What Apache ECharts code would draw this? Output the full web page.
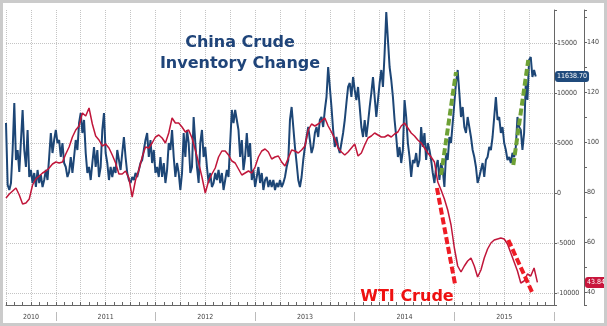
<!DOCTYPE html>
<html><head><meta charset="utf-8">
<script src="https://cdn.jsdelivr.net/npm/echarts@6/dist/echarts.min.js"></script>
<style>
html,body{margin:0;padding:0;background:#fff;}
#c{width:607px;height:326px;position:absolute;left:0;top:0;}
#frame{position:absolute;left:0;top:0;width:607px;height:326px;box-sizing:border-box;border:3px solid #cbcbcb;pointer-events:none;}
</style>
</head><body><div id="c"></div><div id="frame"></div>
<script>
// x unit: months after Jan 2010
const startMonth = 6;
const blueStep = 0.2;
const wtiStep = 0.4;
const yearLabels = ['2010','2011','2012','2013','2014','2015'];
const blueValues = [
7000,800,300,1000,4300,9000,3300,4300,2100,2300,
8300,4300,2600,6300,1600,2300,1000,2000,600,2300,
1000,1800,600,1300,2300,1300,3600,6000,4000,5300,
6300,5000,5300,3600,5000,3000,2600,1600,2100,3600,
2000,3600,5300,4300,7000,8000,6000,7300,4000,2000,
2600,1300,3000,4600,2600,4300,1600,2600,6300,8000,
4000,3000,1300,2600,1600,2600,2000,4300,3300,2300,
4000,5600,3600,2000,1300,1000,1600,1300,2000,1600,
2300,3000,3300,4300,5300,6000,3600,5300,3000,4300,
2000,2600,1600,3600,1600,3000,1000,2300,5000,4300,
6300,3600,1600,3000,2000,300,2000,6000,3600,6300,
5000,2000,2600,7600,5000,2600,1000,5000,6300,3600,
4600,2600,1000,2000,600,1000,2000,1300,2300,1000,
2000,300,1300,2300,1600,5000,8300,7000,8300,7300,
6300,3600,5300,2300,3600,6000,3600,5000,1300,2300,
600,1600,2600,1000,2000,300,1300,1600,600,1300,
600,1300,300,1000,600,1300,600,1000,1600,2600,
3300,7300,8600,6600,4600,3000,1300,600,1600,3300,
4600,5600,6600,5300,4000,4600,6000,6600,5600,7300,
7600,6600,8300,9600,12600,10600,8600,6300,4600,5600,
4600,4000,5000,6000,7300,9000,10600,11000,9600,11600,
10300,9300,10600,8600,6600,5600,7300,5600,7000,8600,
10000,11600,9600,7600,9300,11000,12300,10600,14000,18100,
15300,12600,11300,9600,7300,5600,3600,4600,3000,4300,
9300,7600,5000,3600,1600,3300,3000,4000,2600,3300,
6600,4600,6000,3300,5000,4300,3300,2000,1000,2600,
3300,1300,3000,2300,600,4000,3300,5600,5000,7000,
9000,11000,12300,10000,7600,8600,6600,6000,7600,6600,
5600,4300,3600,2600,1000,1600,2300,3000,1600,3300,
3600,4600,4300,5600,7600,9600,7300,7600,6000,6600,
5000,4300,3300,3600,3000,4000,3600,4600,7600,6600,
6300,4300,6000,11000,9300,13300,13600,11600,12300,11638.7
];
const wtiValues = [
77.6,79.2,80.4,81.6,78.8,75.2,75.6,77.2,82.8,85.2,
86.4,87.6,88.4,89.6,91.2,92.0,91.6,92.0,95.2,98.0,
102.0,104.8,106.4,111.6,110.4,113.6,107.2,102.4,100.8,98.4,
99.2,97.6,94.8,91.6,87.2,87.2,88.4,85.6,78.0,84.8,
88.8,94.0,98.0,97.6,99.6,102.0,102.8,101.6,99.6,103.6,
109.6,107.6,107.6,106.0,104.0,104.8,101.6,96.8,91.6,86.0,
79.6,84.4,87.2,89.6,94.0,96.4,96.4,94.8,92.4,91.6,
89.2,86.8,87.6,88.4,87.6,90.0,94.0,96.4,97.2,96.0,
93.2,94.0,94.4,92.0,90.4,93.6,96.8,96.4,95.6,96.8,
98.4,104.8,107.2,106.4,107.2,108.4,109.6,106.4,104.0,101.2,
97.6,96.0,94.8,96.0,97.6,99.2,94.4,95.6,98.8,101.6,
102.4,103.6,102.8,102.0,102.0,102.8,102.0,103.2,104.0,106.4,
107.6,105.6,103.6,102.4,100.8,99.6,97.6,95.6,94.0,92.0,
84.0,80.8,77.2,72.8,66.8,57.6,50.4,48.0,50.4,52.4,
53.6,50.4,46.0,48.8,53.6,57.2,59.6,60.8,61.2,61.6,
61.2,59.2,55.6,52.0,48.4,43.6,44.4,47.2,46.4,49.6,
43.84
];
// annotation arrows in data units [month, value]
const greenArrows = [[[58.4,1800],[60.2,12100]], [[67.1,2800],[68.9,13300]]];
const redArrows = [[[57.9,81.6],[60.1,42.8]], [[66.5,60.8],[69.35,40.0]]];

const blueData = blueValues.map((v,i)=>[startMonth + i*blueStep, v]);
const wtiData = wtiValues.map((v,i)=>[startMonth + i*wtiStep, v]);
const quarterCats = [];
for (let m = 6; m <= 72; m += 3) quarterCats.push(String(m));
function yearLabel(idx){
  const m = 6 + 3*idx;
  if (m === 9) return yearLabels[0];
  if (m % 12 === 6 && m >= 18) return yearLabels[(m-6)/12];
  return '';
}
const axisFont = 'Liberation Sans Narrow, DejaVu Sans Condensed, sans-serif';
const chart = echarts.init(document.getElementById('c'));
chart.setOption({
  animation: false,
  backgroundColor: '#fff',
  textStyle: {fontFamily: axisFont},
  title: [
    {text: 'China Crude\nInventory Change', left: 240, top: 32, textAlign: 'center', padding: 0,
     textStyle: {fontFamily: 'DejaVu Sans', fontWeight: 'bold', fontSize: 16, lineHeight: 21, color: '#1f4479'}},
    {text: 'WTI Crude', left: 407, top: 288, textAlign: 'center', padding: 0,
     textStyle: {fontFamily: 'DejaVu Sans', fontWeight: 'bold', fontSize: 16, lineHeight: 18, color: '#ee1111'}}
  ],
  grid: {left: 6, right: 53, top: 10, bottom: 21, containLabel: false},
  xAxis: [
    {type: 'value', min: 6, max: 72, interval: 1,
     axisLine: {show: true, onZero: false, lineStyle: {color: '#666'}},
     axisTick: {show: true, inside: true, length: 3, lineStyle: {color: '#666'}},
     axisLabel: {show: false}, splitLine: {show: false}},
    {type: 'category', data: quarterCats, boundaryGap: false, position: 'bottom', offset: 7,
     axisLine: {show: false, onZero: false},
     axisTick: {show: true, length: 9, interval: (i)=> (6+3*i) % 12 === 0, lineStyle: {color: '#bbb'}},
     axisLabel: {interval: (i)=> yearLabel(i) !== '', formatter: (v,i)=> yearLabel(i), fontSize: 7, color: '#444', margin: 2},
     splitLine: {show: true, interval: 0, lineStyle: {type: 'dotted', color: '#c4c4c4'}}}
  ],
  yAxis: [
    {type: 'value', position: 'right', min: -11200, max: 18300, splitNumber: 6,
     axisLine: {show: true, onZero: false, lineStyle: {color: '#666'}},
     axisTick: {show: true, length: 3, lineStyle: {color: '#666'}},
     axisLabel: {fontSize: 7, color: '#444', margin: 3, formatter: v => (v % 5000 === 0 ? String(v) : '')},
     splitLine: {show: true, showMinLine: false, showMaxLine: false, lineStyle: {type: 'dotted', color: '#c4c4c4'}},
     axisPointer: {show: true, type: 'none', value: blueValues[blueValues.length-1], status: 'show', triggerTooltip: false,
       label: {show: true, formatter: p => Number(p.value).toFixed(2), backgroundColor: '#1f4a7c', color: '#fff', fontSize: 7, padding: [2,2], margin: 1}}},
    {type: 'value', position: 'right', offset: 30, min: 34.8, max: 152.8, splitNumber: 6,
     axisLine: {show: true, onZero: false, lineStyle: {color: '#666'}},
     axisTick: {show: true, length: 3, lineStyle: {color: '#666'}},
     minorTick: {show: true, splitNumber: 2, length: 3, lineStyle: {color: '#666'}},
     axisLabel: {fontSize: 7, color: '#444', margin: 3, formatter: v => (v % 20 === 0 ? String(v) : '')},
     splitLine: {show: false},
     axisPointer: {show: true, type: 'none', value: wtiValues[wtiValues.length-1], status: 'show', triggerTooltip: false,
       label: {show: true, formatter: p => Number(p.value).toFixed(2), backgroundColor: '#c8163c', color: '#fff', fontSize: 7, padding: [2,2], margin: 1}}}
  ],
  series: [
    {name: 'China Crude Inventory Change', type: 'line', xAxisIndex: 0, yAxisIndex: 0, data: blueData,
     showSymbol: false, symbol: 'none', lineStyle: {color: '#1d4676', width: 2}, z: 2,
     markLine: {silent: true, symbol: ['none','triangle'], symbolSize: [0, 11], label: {show: false},
       lineStyle: {color: '#6ea136', width: 4, type: [7,3]},
       data: greenArrows.map(a => [{coord: a[0]}, {coord: a[1]}])}},
    {name: 'WTI Crude', type: 'line', xAxisIndex: 0, yAxisIndex: 1, data: wtiData,
     showSymbol: false, symbol: 'none', lineStyle: {color: '#c0163a', width: 1.5}, z: 3,
     markLine: {silent: true, symbol: ['none','triangle'], symbolSize: [0, 11], label: {show: false},
       lineStyle: {color: '#ee1c25', width: 4, type: [7,3]},
       data: redArrows.map(a => [{coord: a[0]}, {coord: a[1]}])}}
  ]
});
</script>
</body></html>
